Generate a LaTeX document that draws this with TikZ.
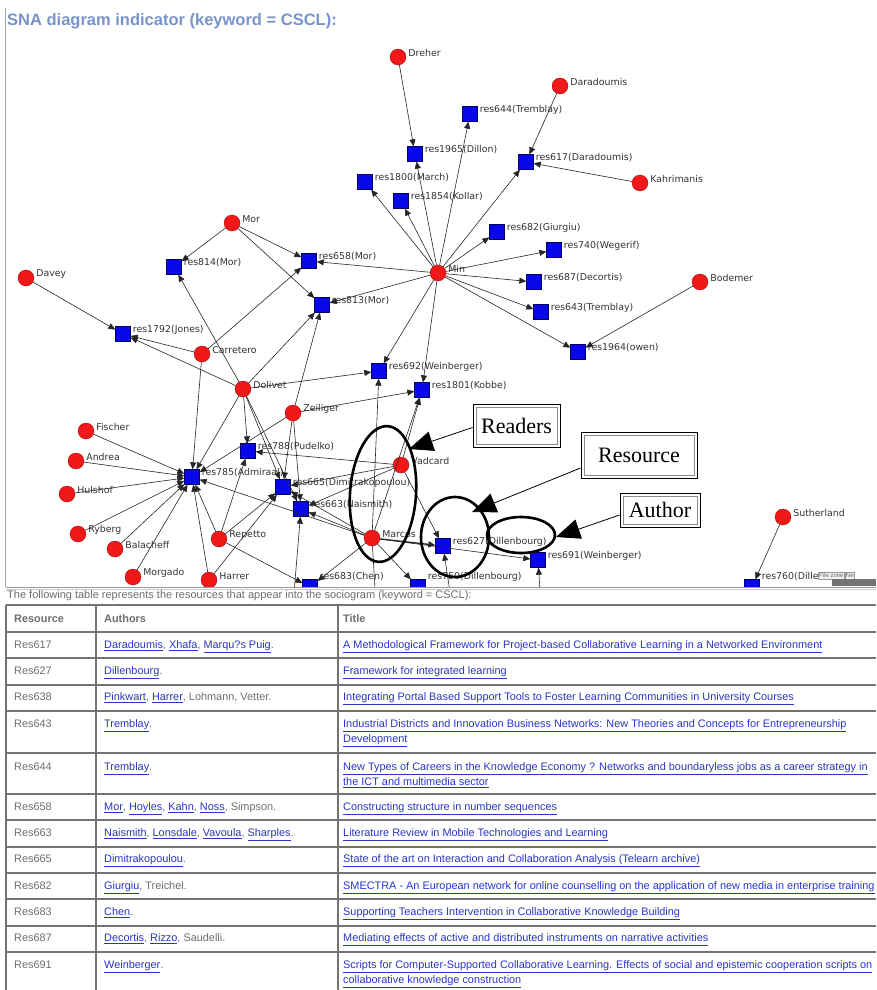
\documentclass[tikz,border=0pt]{standalone}
\usepackage{fontspec}
\setmainfont{Liberation Sans}
\newfontfamily\lblfont{DejaVu Sans}
\newfontfamily\serfont{Liberation Serif}
\usetikzlibrary{arrows.meta}
\definecolor{ttl}{HTML}{7894CA}
\definecolor{nred}{HTML}{F01818}
\definecolor{nblue}{HTML}{0808E8}
\definecolor{lnk}{HTML}{2A36C4}
\definecolor{txtg}{HTML}{6E6E6E}
\newcommand\lk[1]{\textcolor{lnk}{\underline{#1}}}
\tikzset{
  person/.style={circle, fill=nred, draw=red!60!black, line width=0.3pt, minimum size=16pt, inner sep=0pt},
  res/.style={rectangle, fill=nblue, draw=blue!40!black, line width=0.3pt, minimum size=15pt, inner sep=0pt},
  lbl/.style={font=\lblfont\fontsize{9.4}{11}\selectfont, text=black!80, inner sep=0.5pt, anchor=west, xshift=1.5pt, yshift=4pt},
  lblb/.style={lbl, yshift=6pt},
  edge/.style={draw=black!85, line width=0.6pt, -{Triangle[length=7pt,width=6pt]}},
  plain/.style={draw=black!85, line width=0.6pt},
  ring/.style={draw=black, line width=2.6pt},
  callbox/.style={draw=black, line width=0.9pt, fill=white, inner sep=0pt, font=\serfont\fontsize{22}{24}\selectfont,
     path picture={\draw[black!45, line width=0.7pt] ([shift={(3pt,3pt)}]path picture bounding box.south west) rectangle ([shift={(-3pt,-3pt)}]path picture bounding box.north east);}},
  callarrow/.style={draw=black, line width=0.8pt, -{Triangle[length=24pt,width=20pt]}},
  cell/.style={anchor=base west, inner sep=0pt, font=\fontsize{10.9}{12}\selectfont, text=txtg},
  hdr/.style={cell, font=\fontsize{10.9}{12}\selectfont\bfseries},
  tline/.style={draw=black!55, line width=1.3pt},
}
\newcommand\pn[4]{\node[person,label={[lbl]east:#4}] (#1) at (#2,#3) {};}
\newcommand\rn[4]{\node[res,label={[lbl]east:#4}] (#1) at (#2,#3) {};}
\newcommand\rb[4]{\node[res,label={[lblb]east:#4}] (#1) at (#2,#3) {};}
\begin{document}
\begin{tikzpicture}[x=1pt,y=-1pt]
\useasboundingbox (0,0) rectangle (876,990);
\fill[white] (0,0) rectangle (876,990);
% title
\node[anchor=west, inner sep=0pt, font=\fontsize{16.5}{18}\selectfont\bfseries, text=ttl] (title) at (7,21) {SNA diagram indicator (keyword = CSCL):};
\draw[black!35, line width=0.8pt] (5.5,8) -- (5.5,587);
\begin{scope}
\clip (6,0) rectangle (876,586.5);
% people
\pn{dreher}{398}{57}{Dreher}
\pn{darad}{560}{86}{Daradoumis}
\pn{kahr}{640}{183}{Kahrimanis}
\pn{min}{438}{273}{Min}
\pn{bodemer}{700}{282}{Bodemer}
\pn{mor}{232}{223}{Mor}
\pn{davey}{26}{278}{Davey}
\pn{carretero}{202}{354}{Carretero}
\pn{dolivet}{243}{389}{Dolivet}
\pn{zeiliger}{293}{413}{Zeiliger}
\pn{fischer}{86}{431}{Fischer}
\pn{andrea}{76}{461}{Andrea}
\pn{hulshof}{67}{494}{Hulshof}
\pn{ryberg}{78}{534}{Ryberg}
\pn{balacheff}{115}{549}{Balacheff}
\pn{morgado}{133}{577}{Morgado}
\pn{repetto}{219}{539}{Repetto}
\pn{harrer}{209}{580}{Harrer}
\pn{vadcard}{401}{465}{Vadcard}
\pn{marcos}{372}{538}{Marcos}
\pn{sutherland}{783}{517}{Sutherland}
% resources
\rn{r644}{470}{114}{res644(Tremblay)}
\rn{r1965}{415}{154}{res1965(Dillon)}
\rn{r617}{526}{162}{res617(Daradoumis)}
\rn{r1800}{365}{182}{res1800(March)}
\rn{r1854}{401}{201}{res1854(Kollar)}
\rn{r682}{497}{232}{res682(Giurgiu)}
\rn{r740}{554}{250}{res740(Wegerif)}
\rn{r687}{534}{282}{res687(Decortis)}
\rn{r643}{541}{312}{res643(Tremblay)}
\rn{r1964}{578}{352}{res1964(owen)}
\rn{r658}{309}{261}{res658(Mor)}
\rn{r814}{174}{267}{res814(Mor)}
\rn{r813}{322}{305}{res813(Mor)}
\rn{r1792}{123}{334}{res1792(Jones)}
\rn{r692}{379}{371}{res692(Weinberger)}
\rn{r1801}{422}{390}{res1801(Kobbe)}
\rn{r788}{248}{451}{res788(Pudelko)}
\rn{r785}{192}{477}{res785(Admiraal)}
\rn{r665}{283}{487}{res665(Dimitrakopoulou)}
\rn{r663}{301}{509}{res663(Naismith)}
\rn{r627}{443}{546}{res627(Dillenbourg)}
\rn{r691}{538}{560}{res691(Weinberger)}
\rb{r683}{310}{587}{res683(Chen)}
\rb{r750}{418}{587}{res750(Dillenbourg)}
\rb{r760}{752}{587}{res760(Dillenbourg)}
\coordinate (b1) at (293,605);
\coordinate (b2) at (376,605);
\coordinate (b3) at (452,605);
\coordinate (b4) at (541,605);
% edges
\draw[edge] (dreher) -- (r1965);
\draw[edge] (darad) -- (r617);
\draw[edge] (kahr) -- (r617);
\foreach \t in {r1800,r1854,r1965,r644,r617,r682,r740,r687,r643,r1964,r692,r1801,r658,r813}
  \draw[edge] (min) -- (\t);
\draw[edge] (bodemer) -- (r1964);
\draw[edge] (mor) -- (r658);
\draw[edge] (mor) -- (r813);
\draw[edge] (mor) -- (r814);
\draw[edge] (davey) -- (r1792);
\draw[edge] (carretero) -- (r1792);
\draw[edge] (carretero) -- (r658);
\draw[edge] (carretero) -- (r785);
\foreach \t in {r1792,r814,r813,r692,r788,r785,r665,r663}
  \draw[edge] (dolivet) -- (\t);
\foreach \t in {r813,r1801,r785,r665,r663}
  \draw[edge] (zeiliger) -- (\t);
\foreach \s in {fischer,andrea,hulshof,ryberg,balacheff,morgado}
  \draw[edge] (\s) -- (r785);
\foreach \t in {r785,r665,r788,r683}
  \draw[edge] (repetto) -- (\t);
\draw[edge] (harrer) -- (r785);
\draw[edge] (harrer) -- (r665);
\foreach \t in {r788,r665,r663,r1801,r627}
  \draw[edge] (vadcard) -- (\t);
\foreach \t in {r692,r1801,r785,r663,r665,r691,r750,r683}
  \draw[edge] (marcos) -- (\t);
\draw[edge, line width=1.3pt] (marcos) -- (r627);
\draw[plain] (marcos) -- (b2);
\draw[edge] (b1) -- (r663);
\draw[edge] (b3) -- (r627);
\draw[edge] (b4) -- (r691);
\draw[edge] (sutherland) -- (r760);
% highlight rings
\draw[ring, rotate around={-4:(383,494)}] (383,494) ellipse [x radius=33, y radius=68];
\draw[ring] (455,537) ellipse [x radius=34, y radius=40];
\draw[ring] (521,535) ellipse [x radius=34, y radius=18];
% callouts
\node[callbox, minimum width=87pt, minimum height=43pt] (readers) at (516.5,425.5) {Readers};
\node[callbox, minimum width=116pt, minimum height=46pt] (resource) at (639,455) {Resource};
\node[callbox, minimum width=80pt, minimum height=34pt] (author) at (660,510) {Author};
\coordinate (tipR) at (409,449);
\coordinate (tipS) at (472,512);
\coordinate (tipA) at (556,537);
\draw[callarrow] ([yshift=-2pt]readers.west) -- (tipR);
\draw[callarrow] ([yshift=-13pt]resource.west) -- (tipS);
\draw[callarrow] ([yshift=-5pt]author.west) -- (tipA);
% file zone tab
\node[draw=black!40, fill=black!5, inner sep=1pt, anchor=south west, font=\fontsize{6}{7}\selectfont, text=black!60] (fz) at (818,579) {File zone};
\node[draw=black!40, fill=black!5, inner sep=1pt, anchor=south west, font=\fontsize{6}{7}\selectfont, text=black!60] (ne) at (fz.south east) {Ne};
\fill[black!55] (832,579) rectangle (876,586);
\end{scope}
\draw[black!40, line width=0.8pt] (5.5,587) -- (876,587);
\draw[black!20, line width=0.6pt] (5.5,589) -- (876,589);
% caption
\node[anchor=base west, inner sep=0pt, font=\fontsize{11}{12}\selectfont, text=txtg] (cap) at (7,598) {The following table represents the resources that appear into the sociogram (keyword = CSCL):};
% table grid
\foreach \yy in {605,632,658,685,711,753,794,820,847,873,899,926,952}
  \draw[tline] (6,\yy) -- (876,\yy);
\foreach \xx in {6,96,338}
  \draw[tline] (\xx,605) -- (\xx,990);
% header
\node[hdr] (h1) at (14,622.5) {Resource};
\node[hdr] (h2) at (104,622.5) {Authors};
\node[hdr] (h3) at (343,622.5) {Title};
% rows
\node[cell] at (14,648.5) {Res617};
\node[cell] at (104,648.5) {\lk{Daradoumis}, \lk{Xhafa}, \lk{Marqu?s Puig}.};
\node[cell] at (343,648.5) {\lk{A Methodological Framework for Project-based Collaborative Learning in a Networked Environment}};
\node[cell] at (14,674.5) {Res627};
\node[cell] at (104,674.5) {\lk{Dillenbourg}.};
\node[cell] at (343,674.5) {\lk{Framework for integrated learning}};
\node[cell] at (14,700.5) {Res638};
\node[cell] at (104,700.5) {\lk{Pinkwart}, \lk{Harrer}, Lohmann, Vetter.};
\node[cell] at (343,700.5) {\lk{Integrating Portal Based Support Tools to Foster Learning Communities in University Courses}};
\node[cell] at (14,727.5) {Res643};
\node[cell] at (104,727.5) {\lk{Tremblay}.};
\node[cell] at (343,727.5) {\lk{Industrial Districts and Innovation Business Networks: New Theories and Concepts for Entrepreneurship}};
\node[cell] at (343,742.5) {\lk{Development}};
\node[cell] at (14,770.5) {Res644};
\node[cell] at (104,770.5) {\lk{Tremblay}.};
\node[cell] at (343,770.5) {\lk{New Types of Careers in the Knowledge Economy ? Networks and boundaryless jobs as a career strategy in}};
\node[cell] at (343,785.5) {\lk{the ICT and multimedia sector}};
\node[cell] at (14,810.5) {Res658};
\node[cell] at (104,810.5) {\lk{Mor}, \lk{Hoyles}, \lk{Kahn}, \lk{Noss}, Simpson.};
\node[cell] at (343,810.5) {\lk{Constructing structure in number sequences}};
\node[cell] at (14,836.5) {Res663};
\node[cell] at (104,836.5) {\lk{Naismith}, \lk{Lonsdale}, \lk{Vavoula}, \lk{Sharples}.};
\node[cell] at (343,836.5) {\lk{Literature Review in Mobile Technologies and Learning}};
\node[cell] at (14,862.5) {Res665};
\node[cell] at (104,862.5) {\lk{Dimitrakopoulou}.};
\node[cell] at (343,862.5) {\lk{State of the art on Interaction and Collaboration Analysis (Telearn archive)}};
\node[cell] at (14,889.5) {Res682};
\node[cell] at (104,889.5) {\lk{Giurgiu}, Treichel.};
\node[cell] at (343,889.5) {\lk{SMECTRA - An European network for online counselling on the application of new media in enterprise training}};
\node[cell] at (14,915.5) {Res683};
\node[cell] at (104,915.5) {\lk{Chen}.};
\node[cell] at (343,915.5) {\lk{Supporting Teachers Intervention in Collaborative Knowledge Building}};
\node[cell] at (14,941.5) {Res687};
\node[cell] at (104,941.5) {\lk{Decortis}, \lk{Rizzo}, Saudelli.};
\node[cell] at (343,941.5) {\lk{Mediating effects of active and distributed instruments on narrative activities}};
\node[cell] at (14,968.5) {Res691};
\node[cell] at (104,968.5) {\lk{Weinberger}.};
\node[cell] at (343,968.5) {\lk{Scripts for Computer-Supported Collaborative Learning. Effects of social and epistemic cooperation scripts on}};
\node[cell] at (343,983.5) {\lk{collaborative knowledge construction}};
\end{tikzpicture}
\end{document}
